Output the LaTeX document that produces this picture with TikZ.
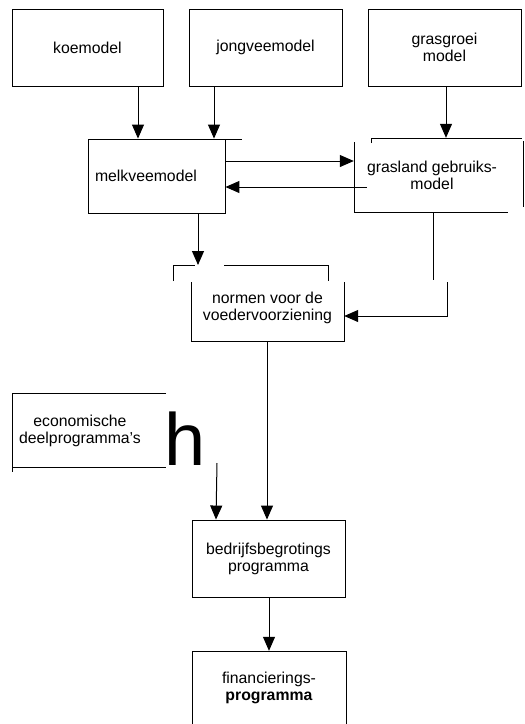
\documentclass[tikz,border=0pt]{standalone}
\usepackage{fontspec}
\setmainfont{Liberation Sans}
\usetikzlibrary{arrows.meta,calc}
\begin{document}
\begin{tikzpicture}[x=1pt,y=-1pt,
  lbl/.style={font=\fontsize{15.8}{17}\selectfont, align=center, inner sep=0pt},
  box/.style={lbl, draw, line width=0.9pt},
  edge/.style={line width=0.9pt},
  arr/.style={line width=1pt, -{Triangle[length=14pt,width=12pt]}}
]
\useasboundingbox (0,0) rectangle (525,724);

% boxes
\node[box, minimum width=151pt, minimum height=77pt] (koe) at (87.5,47.5) {koemodel};
\node[box, minimum width=153pt, minimum height=77pt] (jong) at (265.5,47.5) {jongveemodel};
\node[box, minimum width=153pt, minimum height=77pt] (gras) at (444.5,47.5) {grasgroei\\model};
\node[box, minimum width=137pt, minimum height=74pt, text width=123pt, align=left] (melk) at (156.5,176) {melkveemodel};
\node[lbl, minimum width=156pt, minimum height=74pt] (gl) at (432,175) {grasland gebruiks-\\model};
\node[lbl, minimum width=153pt, minimum height=67pt] (norm) at (267.5,307.5) {normen voor de\\voedervoorziening};
\node[lbl, minimum width=136pt, minimum height=74pt] (econ) at (80,431) {economische\\deelprogramma's};
\node[inner sep=0pt, anchor=base, font=\fontsize{74}{74}\selectfont] (hh) at (185.5,465) {h};
\node[box, minimum width=153pt, minimum height=77pt] (bed) at (268.5,558.5) {bedrijfsbegrotings\\programma};
\node[lbl, minimum width=154pt, minimum height=73pt] (fin) at (269,687.5) {financierings-\\\textbf{programma}};

% broken outlines
\draw[edge] (225,139) -- (242,139);
\draw[edge] (371,143) -- (371,138) -- (522,138);
\draw[edge] (523,141) -- (523,207);
\draw[edge] (354,142) -- (354,212) -- (508,212);
\draw[edge] (173,281) -- (173,265) -- (195,265);
\draw[edge] (224,265) -- (328,265) -- (328,281);
\draw[edge] (191,282) -- (191,341) -- (344,341) -- (344,282);
\draw[edge] (166,393) -- (12,393) -- (12,472);
\draw[edge] (12,467) -- (166,467);
\draw[edge] (192,724) -- (192,651) -- (346,651) -- (346,724);

% connectors
\coordinate (nin) at (198,265);
\coordinate (es) at (217,463);
\draw[arr] (koe.south -| 138,0) -- (melk.north -| 138,0);
\draw[arr] (jong.south -| 214,0) -- (melk.north -| 214,0);
\draw[arr] (gras.south -| 446,0) -- (gl.north -| 446,0);
\draw[arr] (melk.east |- 0,161) -- (gl.west |- 0,161);
\draw[arr] ($(gl.west)+(13,12)$) -- (melk.east |- 0,187);
\draw[arr] (melk.south -| 198,0) -- (nin);
\draw[line width=1pt] (gl.south -| 433,0) -- (433,280);
\draw[arr] (447,282) |- (norm.east |- 0,316);
\draw[arr] (norm.south -| 267,0) -- (bed.north -| 267,0);
\draw[arr] (es) -- (bed.north -| 216,0);
\draw[arr] (bed.south -| 269,0) -- (fin.north -| 269,0);
\end{tikzpicture}
\end{document}
